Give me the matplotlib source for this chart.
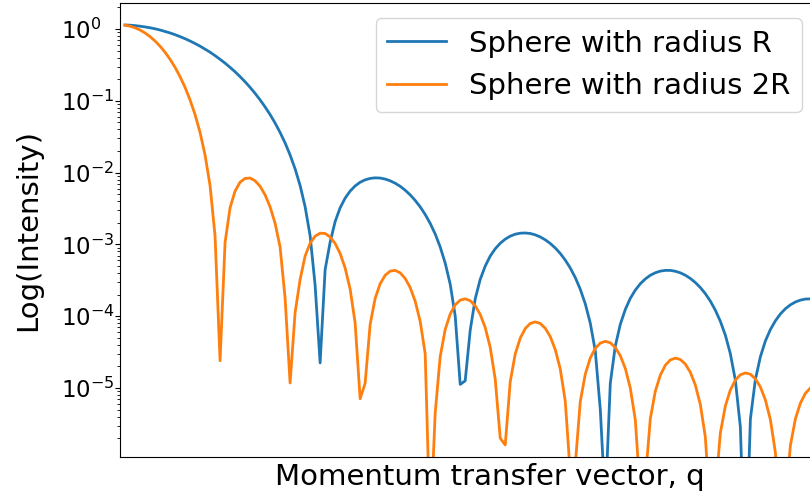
import numpy as np
import matplotlib
matplotlib.use("Agg")
import matplotlib.pyplot as plt

# momentum transfer q (in units of 1/R), sampled grid
q = [0.113, 0.225, 0.338, 0.450, 0.563, 0.676, 0.788, 0.901, 1.013, 1.126,
     1.239, 1.351, 1.464, 1.576, 1.689, 1.802, 1.914, 2.027, 2.139, 2.252,
     2.365, 2.477, 2.590, 2.702, 2.815, 2.928, 3.040, 3.153, 3.265, 3.378,
     3.491, 3.603, 3.716, 3.828, 3.941, 4.054, 4.166, 4.279, 4.391, 4.504,
     4.617, 4.729, 4.842, 4.954, 5.067, 5.180, 5.292, 5.405, 5.517, 5.630,
     5.743, 5.855, 5.968, 6.080, 6.193, 6.306, 6.418, 6.531, 6.643, 6.756,
     6.869, 6.981, 7.094, 7.206, 7.319, 7.432, 7.544, 7.657, 7.769, 7.882,
     7.995, 8.107, 8.220, 8.332, 8.445, 8.558, 8.670, 8.783, 8.895, 9.008,
     9.121, 9.233, 9.346, 9.458, 9.571, 9.684, 9.796, 9.909, 10.021, 10.134,
     10.247, 10.359, 10.472, 10.584, 10.697, 10.810, 10.922, 11.035, 11.147, 11.260,
     11.373, 11.485, 11.598, 11.710, 11.823, 11.936, 12.048, 12.161, 12.273, 12.386,
     12.499, 12.611, 12.724, 12.836, 12.949, 13.062, 13.174, 13.287, 13.399, 13.512,
     13.625, 13.737, 13.850, 13.962, 14.075, 14.188, 14.300, 14.413, 14.525, 14.638,
     14.751, 14.863, 14.976, 15.088, 15.201, 15.314, 15.426, 15.539, 15.651]

# log10 of intensity, sphere with radius R
log_int_R = [0.056, 0.053, 0.047, 0.039, 0.029, 0.017, 0.003, -0.014, -0.034, -0.055,
             -0.079, -0.106, -0.135, -0.167, -0.202, -0.239, -0.280, -0.323, -0.371, -0.422,
             -0.476, -0.534, -0.596, -0.663, -0.735, -0.813, -0.896, -0.987, -1.085, -1.192,
             -1.310, -1.441, -1.587, -1.754, -1.948, -2.181, -2.474, -2.879, -3.564, -4.65,
             -3.35, -2.971, -2.682, -2.491, -2.356, -2.257, -2.186, -2.134, -2.101, -2.081,
             -2.073, -2.076, -2.090, -2.114, -2.148, -2.191, -2.245, -2.310, -2.387, -2.477,
             -2.583, -2.707, -2.855, -3.035, -3.260, -3.554, -3.995, -4.95, -4.90, -4.196,
             -3.757, -3.488, -3.302, -3.163, -3.061, -2.984, -2.927, -2.885, -2.858, -2.844,
             -2.841, -2.848, -2.867, -2.896, -2.936, -2.987, -3.050, -3.126, -3.218, -3.329,
             -3.462, -3.624, -3.828, -4.095, -4.483, -5.30, -6.63, -4.934, -4.417, -4.114,
             -3.906, -3.751, -3.637, -3.548, -3.481, -3.430, -3.395, -3.372, -3.362, -3.362,
             -3.374, -3.396, -3.429, -3.474, -3.531, -3.601, -3.686, -3.790, -3.916, -4.071,
             -4.265, -4.523, -4.892, -5.540, -7.69, -5.433, -4.882, -4.565, -4.346, -4.186,
             -4.064, -3.969, -3.896, -3.842, -3.802, -3.776, -3.761, -3.758, -3.765]

# log10 of intensity, sphere with radius 2R
log_int_2R = [0.053, 0.039, 0.017, -0.014, -0.055, -0.106, -0.167, -0.239, -0.323, -0.422,
              -0.534, -0.663, -0.813, -0.987, -1.192, -1.441, -1.754, -2.181, -2.879, -4.62,
              -2.971, -2.491, -2.257, -2.134, -2.081, -2.076, -2.114, -2.191, -2.310, -2.477,
              -2.707, -3.035, -3.75, -4.93, -3.95, -3.488, -3.163, -2.984, -2.885, -2.844,
              -2.848, -2.896, -2.987, -3.126, -3.329, -3.624, -4.095, -5.15, -4.934, -4.114,
              -3.751, -3.548, -3.430, -3.372, -3.362, -3.396, -3.474, -3.601, -3.790, -4.071,
              -4.523, -7.0, -5.35, -4.565, -4.186, -3.969, -3.842, -3.776, -3.758, -3.784,
              -3.855, -3.975, -4.158, -4.433, -4.877, -5.70, -5.793, -4.912, -4.527, -4.306,
              -4.172, -4.101, -4.079, -4.101, -4.168, -4.285, -4.464, -4.736, -5.181, -6.189,
              -6.067, -5.192, -4.807, -4.583, -4.448, -4.374, -4.350, -4.370, -4.435, -4.550,
              -4.728, -4.999, -5.445, -6.48, -6.282, -5.426, -5.045, -4.821, -4.684, -4.609,
              -4.584, -4.603, -4.667, -4.781, -4.959, -5.231, -5.683, -6.757, -6.458, -5.627,
              -5.250, -5.027, -4.891, -4.816, -4.790, -4.808, -4.872, -4.986, -5.165, -5.440,
              -5.899, -7.02, -6.605, -5.802, -5.430, -5.210, -5.074, -5.000, -4.974]

y_ticks = [1e0, 1e-1, 1e-2, 1e-3, 1e-4, 1e-5]
series_labels = ["Sphere with radius R", "Sphere with radius 2R"]
x_label = "Momentum transfer vector, q"
y_label = "Log(Intensity)"

fig = plt.figure(figsize=(8.1, 5.0), dpi=100)
# the axes runs past the right edge of the picture (cropped like the original)
ax = fig.add_axes([120 / 810, 43 / 500, 740 / 810, 454 / 500])

ax.plot(q, np.power(10.0, log_int_R), color="#1f77b4", lw=2, label=series_labels[0])
ax.plot(q, np.power(10.0, log_int_2R), color="#ff7f0e", lw=2, label=series_labels[1])

ax.set_yscale("log")
ax.set_xlim(0, 16.655)
ax.set_ylim(1.094e-6, 2.302)
ax.set_xticks([])
ax.set_yticks(y_ticks)
ax.tick_params(axis="y", which="major", labelsize=16.5, pad=39.2)
for lbl in ax.get_yticklabels():
    lbl.set_horizontalalignment("left")

ax.set_xlabel(x_label, fontsize=21)
ax.set_ylabel(y_label, fontsize=21)
ax.yaxis.set_label_coords((42 - 120) / 740, 0.5)

ax.legend(loc="upper right", fontsize=21, bbox_to_anchor=(802 / 810, 1 - 18 / 500),
          bbox_transform=fig.transFigure, borderaxespad=0)

fig.savefig("out.png", dpi=100)
